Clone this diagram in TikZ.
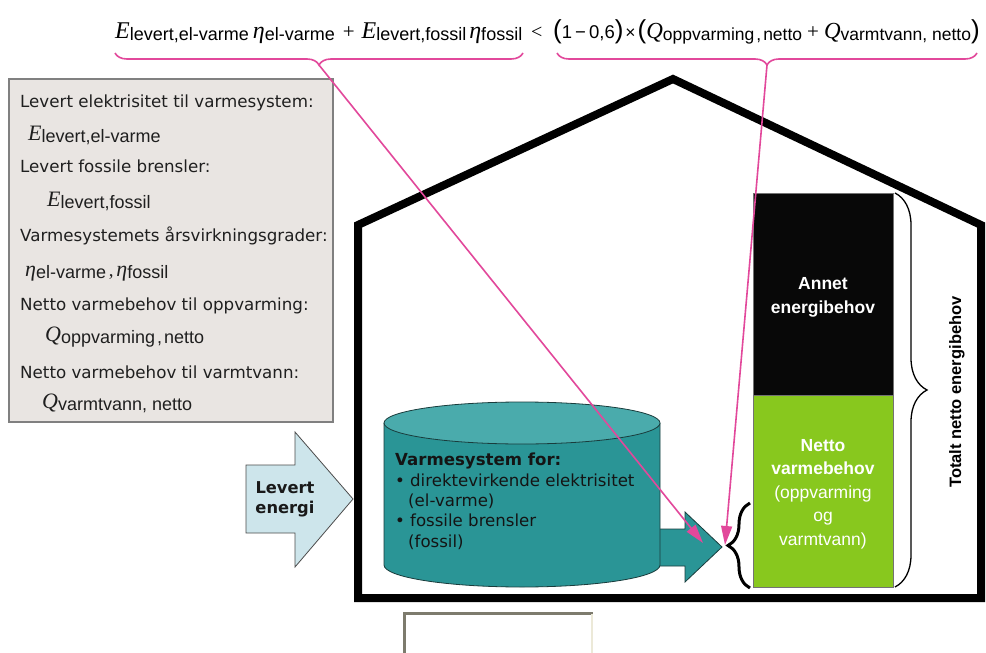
\documentclass[tikz,border=0pt]{standalone}
\usepackage{fontspec}
\setmainfont{DejaVu Sans}
\newfontfamily\ari{Liberation Sans}
\newfontfamily\tim{Liberation Serif}
\usetikzlibrary{decorations.pathreplacing,arrows.meta}
\definecolor{pinkc}{RGB}{226,72,155}
\definecolor{tealbody}{RGB}{42,149,150}
\definecolor{tealtop}{RGB}{74,171,172}
\definecolor{tealdark}{RGB}{25,60,60}
\definecolor{lightblue}{RGB}{205,229,235}
\definecolor{boxgray}{RGB}{233,229,226}
\definecolor{greenc}{RGB}{136,200,30}
\definecolor{sunkdark}{RGB}{125,123,109}
\definecolor{sunklight}{RGB}{236,233,216}
\newcommand\myvar[4]{{\fontsize{#3}{#3}\selectfont\tim\itshape #1}\raisebox{-2.5pt}{\fontsize{#4}{#4}\selectfont\ari #2}}
\newcommand\fsz[1]{\fontsize{#1}{#1}\selectfont}
\tikzset{
  infotext/.style={anchor=base west, inner sep=0pt, font=\fontsize{16.7}{20}\selectfont, text=black!88},
  formtext/.style={anchor=base west, inner sep=0pt},
  pinkbrace/.style={draw=pinkc, line width=1.6pt, decorate, decoration={brace, mirror, amplitude=12pt}},
  pinkarrow/.style={draw=pinkc, line width=1.6pt, -{Triangle[length=19pt,width=11pt]}},
  stacktext/.style={align=center, text=white, font=\ari\fontsize{17.5}{23.5}\selectfont, inner sep=0pt},
}
\begin{document}
\begin{tikzpicture}[x=1pt,y=-1pt]
\useasboundingbox (0,0) rectangle (986,653);
\fill[white] (0,0) rectangle (986,653);

% ---------- formula ----------
\node[formtext] (fl) at (115,38) {\myvar{E}{levert,el-varme}{24}{18}\hspace{4pt}\myvar{η}{el-varme}{24}{18}\hspace{8pt}{\fsz{21}\tim +}\hspace{7pt}\myvar{E}{levert,fossil}{24}{18}\hspace{3pt}\myvar{η}{fossil}{24}{18}};
\node[formtext] (flt) at (531,38) {\fsz{20}\tim <};
\node[formtext] (fr) at (553,38) {{\fsz{26}\ari(}{\fsz{18.5}\ari 1\,−\,0,6}{\fsz{26}\ari)}\hspace{2pt}{\fsz{17.5}\ari ×}\hspace{2pt}{\fsz{26}\ari(}\myvar{Q}{oppvarming\hspace{2pt},\hspace{2pt}netto}{23}{17.5}\hspace{5pt}{\fsz{21}\tim +}\hspace{5pt}\myvar{Q}{varmtvann, netto}{23}{17.5}{\fsz{26}\ari)}};

% braces under the formula
\coordinate (b1a) at (115,53);
\coordinate (b1b) at (523,53);
\coordinate (b2a) at (557,53);
\coordinate (b2b) at (977,53);
\draw[pinkbrace] (b1a) -- (b1b);
\draw[pinkbrace] (b2a) -- (b2b);
\coordinate (b1tip) at (319,65);
\coordinate (b2tip) at (767,65);

% ---------- info box ----------
\node[draw=black!50, line width=1.4pt, fill=boxgray, minimum width=324pt, minimum height=343pt, inner sep=0pt] (info) at (171,250.5) {};
\node[infotext] (t1) at (20,107) {Levert elektrisitet til varmesystem:};
\node[infotext] (e1) at (28,140) {\myvar{E}{levert,el-varme}{22}{18}};
\node[infotext] (t2) at (20,172) {Levert fossile brensler:};
\node[infotext] (e2) at (47,206) {\myvar{E}{levert,fossil}{22}{18}};
\node[infotext] (t3) at (20,241) {Varmesystemets årsvirkningsgrader:};
\node[infotext] (e3) at (25,276) {\myvar{η}{el-varme}{22}{18}\,{\fsz{19}\tim ,}\,\myvar{η}{fossil}{22}{18}};
\node[infotext] (t4) at (20,310) {Netto varmebehov til oppvarming:};
\node[infotext] (e4) at (45,341) {\myvar{Q}{oppvarming\hspace{2pt},\hspace{2pt}netto}{22}{18}};
\node[infotext] (t5) at (20,378) {Netto varmebehov til varmtvann:};
\node[infotext] (e5) at (42,408) {\myvar{Q}{varmtvann, netto}{22}{18}};

% ---------- house ----------
\draw[line width=8pt, line join=miter] (358,598) -- (358,225) -- (673,79) -- (981,225) -- (981,598) -- cycle;

% ---------- levert energi arrow ----------
\filldraw[fill=lightblue, draw=black!70, line width=0.8pt] (246,465) -- (295,465) -- (295,432) -- (353,499) -- (295,567) -- (295,533) -- (246,533) -- cycle;
\node[align=center, font=\bfseries\fontsize{16.3}{20}\selectfont, text=black!90, inner sep=0pt] (lev) at (285,499) {Levert\\energi};

% ---------- output arrow ----------
\filldraw[fill=tealbody, draw=tealdark, line width=0.8pt] (650,529) -- (685,529) -- (685,512) -- (722,547) -- (685,582) -- (685,566) -- (650,566) -- cycle;

% ---------- cylinder ----------
\filldraw[fill=tealbody, draw=tealdark, line width=0.8pt] (384,423) -- (384,565) arc[start angle=180, end angle=360, x radius=138pt, y radius=22pt] -- (660,423);
\filldraw[fill=tealtop, draw=tealdark, line width=0.8pt] (522,423) ellipse [x radius=138pt, y radius=21pt];
\node[anchor=north west, align=left, inner sep=0pt, text=black!92, font=\fontsize{16.6}{20.3}\selectfont] (cyltext) at (395,453) {\textbf{Varmesystem for:}\\ \makebox[15pt][l]{•}direktevirkende elektrisitet\\ \hspace*{13pt}(el-varme)\\ \makebox[15pt][l]{•}fossile brensler\\ \hspace*{13pt}(fossil)};

% ---------- energy stack ----------
\node[fill=black!97, draw=black!55, line width=0.6pt, minimum width=140pt, minimum height=202pt, inner sep=0pt] (annet) at (823,294) {};
\node[fill=greenc, draw=black!55, line width=0.6pt, minimum width=140pt, minimum height=192pt, inner sep=0pt] (netto) at (823,491) {};
\node[stacktext, font=\ari\bfseries\fontsize{17.5}{24}\selectfont] (annettxt) at (823,297) {Annet\\energibehov};
\node[stacktext] (nettotxt) at (823,494) {\textbf{Netto}\\\textbf{varmebehov}\\(oppvarming\\og\\varmtvann)};

% big brace
\draw[decorate, decoration={brace, amplitude=32pt}, line width=1.3pt] (895,193) -- (895,587);
\node[rotate=90, font=\ari\bfseries\fontsize{16.5}{20}\selectfont, inner sep=0pt] (tot) at (957,392) {Totalt netto energibehov};

% small brace
\draw[decorate, decoration={brace, amplitude=22pt}, line width=3pt] (750,588) -- (750,503);

% ---------- pink arrows ----------
\coordinate (a1end) at (703,543);
\coordinate (a2end) at (725,545);
\draw[pinkarrow] (b1tip) -- (a1end);
\draw[pinkarrow] (b2tip) -- (a2end);

% ---------- sunken box ----------
\fill[white] (404,613) rectangle (592,653);
\draw[draw=sunkdark, line width=3pt] (404,653) -- (404,613) -- (593,613);
\draw[draw=sunklight, line width=1.5pt] (592,614) -- (592,653);
\end{tikzpicture}
\end{document}
